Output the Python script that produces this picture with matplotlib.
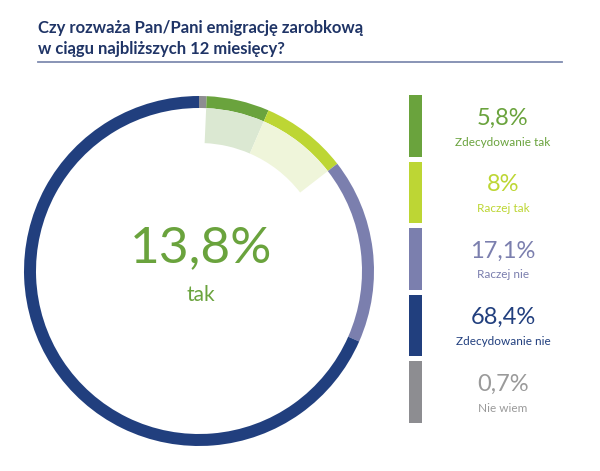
import numpy as np
import matplotlib.pyplot as plt

# dane z ankiety (kolejnosc na pierscieniu, zgodnie z ruchem wskazowek zegara od gory)
ring_labels = ['Nie wiem', 'Zdecydowanie tak', 'Raczej tak', 'Raczej nie', 'Zdecydowanie nie']
ring_values = [0.7, 5.8, 8.0, 17.1, 68.4]
ring_colors = ['#8d8d91', '#6aa33d', '#bdd634', '#7b7fae', '#213f7e']

# legenda po prawej
legend_labels = ['Zdecydowanie tak', 'Raczej tak', 'Raczej nie', 'Zdecydowanie nie', 'Nie wiem']
legend_values = ['5,8%', '8%', '17,1%', '68,4%', '0,7%']
legend_colors = ['#6aa33d', '#bdd634', '#7b7fae', '#213f7e', '#8d8d91']
legend_text_colors = ['#6aa33d', '#bdd634', '#7b7fae', '#213f7e', '#9a9a9a']

tak_values = [5.8, 8.0]
tak_shades = ['#dbe8d2', '#eff5da']
tak_total = '13,8%'

title = 'Czy rozważa Pan/Pani emigrację zarobkową\nw ciągu najbliższych 12 miesięcy?'

plt.rcParams['font.family'] = ['Lato', 'DejaVu Sans']

W, H = 600, 471
fig = plt.figure(figsize=(6, 4.71), dpi=100)
ax = fig.add_axes([0, 0, 1, 1])

cx, cy = 199, H - 271
R = 175

# pierscien
ax.pie(ring_values, colors=ring_colors, startangle=90, counterclock=False,
       radius=R, center=(cx, cy), wedgeprops=dict(width=12, linewidth=0))

# jasne wycinki dla "tak"
start = 90 - ring_values[0] * 3.6
ax.pie(tak_values + [100 - sum(tak_values)], colors=tak_shades + ['none'],
       startangle=start, counterclock=False, radius=R - 12, center=(cx, cy),
       wedgeprops=dict(width=35, linewidth=0))

ax.text(cx + 2, H - 248, tak_total, color='#6aa33d', fontsize=37,
        ha='center', va='center')
ax.text(cx + 2, H - 295, 'tak', color='#6aa33d', fontsize=15,
        ha='center', va='center')

# paski legendy
for i in range(len(legend_labels)):
    top = 95 + i * 66.5
    ax.bar(415, 61.5, bottom=H - top - 61.5, width=13, color=legend_colors[i],
           linewidth=0)
    ax.text(503, H - top - 23, legend_values[i], color=legend_text_colors[i],
            fontsize=17, ha='center', va='center')
    ax.text(503, H - top - 47, legend_labels[i], color=legend_text_colors[i],
            fontsize=8.5, ha='center', va='center')

# tytul
ax.text(38, H - 54, title, color='#1f3466', fontsize=12, fontweight='bold',
        ha='left', va='baseline', linespacing=1.35)
ax.plot([38, 562], [H - 61.5, H - 61.5], color='#7f8bb0', linewidth=1.3)

ax.set_xlim(0, W)
ax.set_ylim(0, H)
ax.set_aspect('auto')
ax.axis('off')

plt.savefig('out.png', dpi=100)
